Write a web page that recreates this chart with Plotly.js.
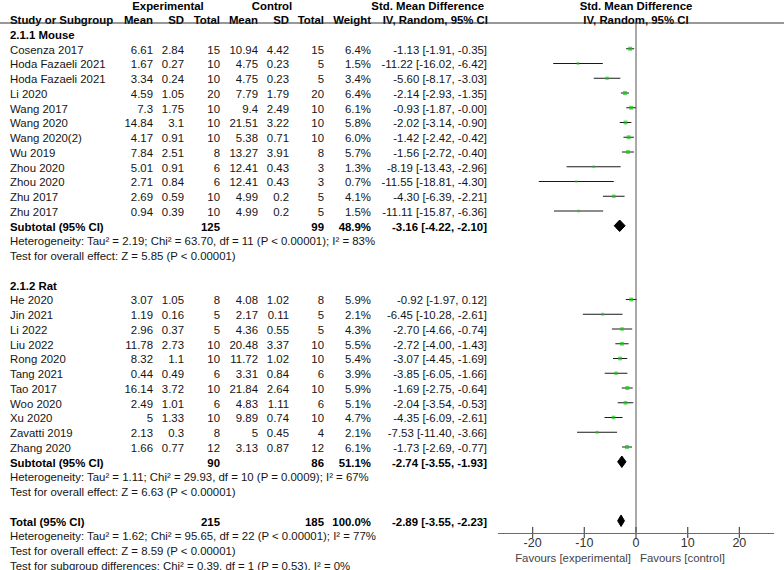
<!DOCTYPE html>
<html><head><meta charset="utf-8">
<script src="https://cdn.plot.ly/plotly-3.0.1.min.js"></script>
<style>html,body{margin:0;padding:0;background:#fff}#chart{width:784px;height:570px}</style>
</head><body><div id="chart"></div>
<script>
// ---------- data ----------
const mouseStudies = ["Cosenza 2017","Hoda Fazaeli 2021","Hoda Fazaeli 2021","Li 2020","Wang 2017","Wang 2020","Wang 2020(2)","Wu 2019","Zhou 2020","Zhou 2020","Zhu 2017","Zhu 2017"];
const mouseExpMean = ["6.61","1.67","3.34","4.59","7.3","14.84","4.17","7.84","5.01","2.71","2.69","0.94"];
const mouseExpSD   = ["2.84","0.27","0.24","1.05","1.75","3.1","0.91","2.51","0.91","0.84","0.59","0.39"];
const mouseExpN    = [15,10,10,20,10,10,10,8,6,6,10,10];
const mouseCtlMean = ["10.94","4.75","4.75","7.79","9.4","21.51","5.38","13.27","12.41","12.41","4.99","4.99"];
const mouseCtlSD   = ["4.42","0.23","0.23","1.79","2.49","3.22","0.71","3.91","0.43","0.43","0.2","0.2"];
const mouseCtlN    = [15,5,5,20,10,10,10,8,3,3,5,5];
const mouseWeight  = [6.4,1.5,3.4,6.4,6.1,5.8,6.0,5.7,1.3,0.7,4.1,1.5];
const mouseSMD     = [-1.13,-11.22,-5.60,-2.14,-0.93,-2.02,-1.42,-1.56,-8.19,-11.55,-4.30,-11.11];
const mouseLo      = [-1.91,-16.02,-8.17,-2.93,-1.87,-3.14,-2.42,-2.72,-13.43,-18.81,-6.39,-15.87];
const mouseHi      = [-0.35,-6.42,-3.03,-1.35,-0.00,-0.90,-0.42,-0.40,-2.96,-4.30,-2.21,-6.36];

const ratStudies = ["He 2020","Jin 2021","Li 2022","Liu 2022","Rong 2020","Tang 2021","Tao 2017","Woo 2020","Xu 2020","Zavatti 2019","Zhang 2020"];
const ratExpMean = ["3.07","1.19","2.96","11.78","8.32","0.44","16.14","2.49","5","2.13","1.66"];
const ratExpSD   = ["1.05","0.16","0.37","2.73","1.1","0.49","3.72","1.01","1.33","0.3","0.77"];
const ratExpN    = [8,5,5,10,10,6,10,6,10,8,12];
const ratCtlMean = ["4.08","2.17","4.36","20.48","11.72","3.31","21.84","4.83","9.89","5","3.13"];
const ratCtlSD   = ["1.02","0.11","0.55","3.37","1.02","0.84","2.64","1.11","0.74","0.45","0.87"];
const ratCtlN    = [8,5,5,10,10,6,10,6,10,4,12];
const ratWeight  = [5.9,2.1,4.3,5.5,5.4,3.9,5.9,5.1,4.7,2.1,6.1];
const ratSMD     = [-0.92,-6.45,-2.70,-2.72,-3.07,-3.85,-1.69,-2.04,-4.35,-7.53,-1.73];
const ratLo      = [-1.97,-10.28,-4.66,-4.00,-4.45,-6.05,-2.75,-3.54,-6.09,-11.40,-2.69];
const ratHi      = [0.12,-2.61,-0.74,-1.43,-1.69,-1.66,-0.64,-0.53,-2.61,-3.66,-0.77];

const subgroupNames = ["2.1.1 Mouse","2.1.2 Rat"];
const pooledLabels  = ["Subtotal (95% CI)","Subtotal (95% CI)","Total (95% CI)"];
const pooledExpN    = [125,90,215];
const pooledCtlN    = [99,86,185];
const pooledWeight  = [48.9,51.1,100.0];
const pooledSMD     = [-3.16,-2.74,-2.89];
const pooledLo      = [-4.22,-3.55,-3.55];
const pooledHi      = [-2.10,-1.93,-2.23];
const mouseStats = ["Heterogeneity: Tau\u00b2 = 2.19; Chi\u00b2 = 63.70, df = 11 (P < 0.00001); I\u00b2 = 83%","Test for overall effect: Z = 5.85 (P < 0.00001)"];
const ratStats   = ["Heterogeneity: Tau\u00b2 = 1.11; Chi\u00b2 = 29.93, df = 10 (P = 0.0009); I\u00b2 = 67%","Test for overall effect: Z = 6.63 (P < 0.00001)"];
const totalStats = ["Heterogeneity: Tau\u00b2 = 1.62; Chi\u00b2 = 95.65, df = 22 (P < 0.00001); I\u00b2 = 77%","Test for overall effect: Z = 8.59 (P < 0.00001)","Test for subgroup differences: Chi\u00b2 = 0.39, df = 1 (P = 0.53), I\u00b2 = 0%"];
const axisTicks = [-20,-10,0,10,20];
const axisTickText = ["-20","-10","0","10","20"];
const favourLabels = ["Favours [experimental]","Favours [control]"];

// ---------- layout constants ----------
const W = 784, H = 570;
const ROW0 = 34, ROWH = 14.75;          // pixel y of row 0 and row height
const pxToRow = p => (p - ROW0) / ROWH;
const AXIS_PX = 532.5;
const TEXT_DY = 2 / ROWH;               // text baseline nudge
const FONT = "Liberation Sans, Arial, sans-serif";
const FS = 11.4;
const COL = {name:10, em:153, esd:184, en:220, cm:258, csd:289, cn:324, w:371, ci:487};

const fmt = v => Object.is(v, -0) ? "-0.00" : v.toFixed(2);
const ciText = (s, lo, hi) => `${fmt(s)} [${fmt(lo)}, ${fmt(hi)}]`;
const seq = (a, n) => Array.from({length:n}, (_, i) => a + i);

// rows
const mouseHeadRow = 0;
const mouseRows = seq(1, mouseStudies.length);
const mouseSubRow = mouseRows[mouseRows.length-1] + 1;
const mouseStatRows = seq(mouseSubRow + 1, mouseStats.length);
const ratHeadRow = mouseStatRows[mouseStatRows.length-1] + 2;
const ratRows = seq(ratHeadRow + 1, ratStudies.length);
const ratSubRow = ratRows[ratRows.length-1] + 1;
const ratStatRows = seq(ratSubRow + 1, ratStats.length);
const totalRow = ratStatRows[ratStatRows.length-1] + 2;
const totalStatRows = seq(totalRow + 1, totalStats.length);
const pooledRows = [mouseSubRow, ratSubRow, totalRow];

const studyRows = mouseRows.concat(ratRows);
const names = mouseStudies.concat(ratStudies);
const expMean = mouseExpMean.concat(ratExpMean);
const expSD = mouseExpSD.concat(ratExpSD);
const expN = mouseExpN.concat(ratExpN);
const ctlMean = mouseCtlMean.concat(ratCtlMean);
const ctlSD = mouseCtlSD.concat(ratCtlSD);
const ctlN = mouseCtlN.concat(ratCtlN);
const weight = mouseWeight.concat(ratWeight);
const smd = mouseSMD.concat(ratSMD);
const lo = mouseLo.concat(ratLo);
const hi = mouseHi.concat(ratHi);

const traces = [];
function textCol(xpos, ys, texts, pos, bold, color) {
  traces.push({type:'scatter', mode:'text', xaxis:'x2', yaxis:'y',
    x: ys.map(() => xpos), y: ys.map(r => r + TEXT_DY),
    text: texts.map(t => bold ? '<b>' + t + '</b>' : String(t)),
    textposition: pos, cliponaxis:false, hoverinfo:'skip',
    textfont:{family:FONT, size:FS, color: color || (bold ? '#000' : '#151515')}});
}
// header
const hdr1 = pxToRow(5), hdr2 = pxToRow(19);
textCol(168, [hdr1], ["Experimental"], 'middle center', true);
textCol(272, [hdr1], ["Control"], 'middle center', true);
textCol(484, [hdr1], ["Std. Mean Difference"], 'middle left', true);
textCol(636, [hdr1], ["Std. Mean Difference"], 'middle center', true);
textCol(COL.name, [hdr2], ["Study or Subgroup"], 'middle right', true);
[["Mean",COL.em],["SD",COL.esd],["Total",COL.en],["Mean",COL.cm],["SD",COL.csd],["Total",COL.cn],["Weight",COL.w]].forEach(([t,x]) => textCol(x, [hdr2], [t], 'middle left', true));
textCol(488, [hdr2], ["IV, Random, 95% CI"], 'middle left', true);
textCol(636, [hdr2], ["IV, Random, 95% CI"], 'middle center', true);

// subgroup headings
textCol(COL.name, [mouseHeadRow, ratHeadRow], subgroupNames, 'middle right', true);
// study rows
textCol(COL.name, studyRows, names, 'middle right');
textCol(COL.em, studyRows, expMean, 'middle left');
textCol(COL.esd, studyRows, expSD, 'middle left');
textCol(COL.en, studyRows, expN, 'middle left');
textCol(COL.cm, studyRows, ctlMean, 'middle left');
textCol(COL.csd, studyRows, ctlSD, 'middle left');
textCol(COL.cn, studyRows, ctlN, 'middle left');
textCol(COL.w, studyRows, weight.map(w => w.toFixed(1) + '%'), 'middle left');
textCol(COL.ci, studyRows, smd.map((s,i) => ciText(s, lo[i], hi[i])), 'middle left');
// pooled rows
textCol(COL.name, pooledRows, pooledLabels, 'middle right', true);
textCol(COL.en, pooledRows, pooledExpN, 'middle left', true);
textCol(COL.cn, pooledRows, pooledCtlN, 'middle left', true);
textCol(COL.w, pooledRows, pooledWeight.map(w => w.toFixed(1) + '%'), 'middle left', true);
textCol(COL.ci, pooledRows, pooledSMD.map((s,i) => ciText(s, pooledLo[i], pooledHi[i])), 'middle left', true);
// statistics lines
textCol(COL.name, mouseStatRows.concat(ratStatRows, totalStatRows), mouseStats.concat(ratStats, totalStats), 'middle right');
// favours labels
const favRow = pxToRow(557.5);
textCol(631, [favRow], [favourLabels[0]], 'middle left', false, '#444');
textCol(640, [favRow], [favourLabels[1]], 'middle right', false, '#444');

// CI lines
const ciX = [], ciY = [];
studyRows.forEach((r, i) => { ciX.push(lo[i], hi[i], null); ciY.push(r, r, null); });
traces.push({type:'scatter', mode:'lines', xaxis:'x', yaxis:'y', x:ciX, y:ciY,
  line:{color:'#1a1a1a', width:1}, hoverinfo:'skip', cliponaxis:false});
// study squares
traces.push({type:'scatter', mode:'markers', xaxis:'x', yaxis:'y', x:smd, y:studyRows,
  marker:{symbol:'square', color:'#14c814', size: weight.map(w => 1.2 + 1.1*Math.sqrt(w)), line:{width:0}},
  hoverinfo:'skip', cliponaxis:false});
// diamonds
const DH = 0.39;
pooledRows.forEach((r, i) => {
  traces.push({type:'scatter', mode:'lines', xaxis:'x', yaxis:'y', fill:'toself', fillcolor:'#000',
    x:[pooledLo[i], pooledSMD[i], pooledHi[i], pooledSMD[i], pooledLo[i]],
    y:[r, r - DH, r, r + DH, r], line:{color:'#000', width:1}, hoverinfo:'skip', cliponaxis:false});
});
// axis tick marks crossing the axis line
const axisRow = pxToRow(AXIS_PX);
traces.push({type:'scatter', mode:'markers', xaxis:'x', yaxis:'y', x:axisTicks, y:axisTicks.map(() => axisRow),
  marker:{symbol:'line-ns', size:8, line:{color:'#5a5a5a', width:1.3}}, hoverinfo:'skip', cliponaxis:false});

const headerLineRow = pxToRow(23);
const layout = {
  width: W, height: H, margin:{l:0, r:0, t:0, b:0, pad:0},
  paper_bgcolor:'#fff', plot_bgcolor:'rgba(0,0,0,0)', showlegend:false,
  font:{family:FONT, size:FS, color:'#111'},
  xaxis:{domain:[498/W, 774/W], range:[-26.7, 26.7], anchor:'free', position:(H-AXIS_PX)/H,
    showline:true, linecolor:'#6b6b6b', linewidth:1.5, ticks:'', ticklabelstandoff:-2,
    tickvals:axisTicks, ticktext:axisTickText, tickfont:{family:FONT, size:12.5, color:'#333'},
    showgrid:false, zeroline:false, fixedrange:true},
  xaxis2:{domain:[0,1], range:[0, W], anchor:'y', visible:false, fixedrange:true},
  yaxis:{domain:[0,1], range:[pxToRow(H), pxToRow(0)], visible:false, fixedrange:true},
  shapes:[
    {type:'line', xref:'paper', yref:'y', x0:0, x1:1, y0:headerLineRow, y1:headerLineRow, line:{color:'#333', width:1.2}},
    {type:'line', xref:'x', yref:'y', x0:0, x1:0, y0:headerLineRow, y1:axisRow, line:{color:'#555', width:1}}
  ]
};
Plotly.newPlot('chart', traces, layout, {staticPlot:true, displayModeBar:false});
</script></body></html>
